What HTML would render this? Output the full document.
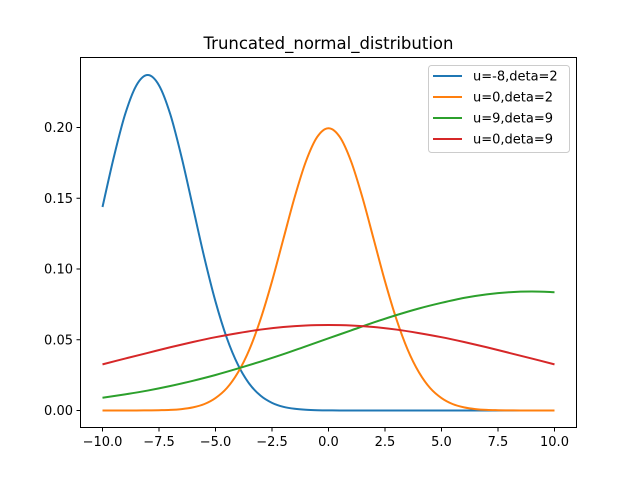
<!DOCTYPE html>
<html><head><meta charset="utf-8"><style>
body{margin:0;background:#fff}
svg text{font-family:"DejaVu Sans","Liberation Sans",sans-serif;}
</style></head><body>
<svg id="chart" width="640" height="480" viewBox="0 0 640 480">
<rect width="640" height="480" fill="#fff"/>
<text x="328.5" y="49" font-size="16.5" text-anchor="middle">Truncated_normal_distribution</text>
<g id="ticks"></g>
<g id="series"></g>
<rect x="80.5" y="57.5" width="496" height="370" fill="none" stroke="#000" stroke-width="1"/>
<g id="legend">
<rect x="428.5" y="65.5" width="141" height="87" rx="3" fill="#fff" fill-opacity="0.8" stroke="#ccc"/>
</g>
</svg>
<script>
const xHalf = [];
for (let i = 0; i <= 40; i++) xHalf.push(-10 + i * 0.5);
const xInt = [];
for (let i = 0; i <= 20; i++) xInt.push(-10 + i);
const labels = ["u=-8,deta=2","u=0,deta=2","u=9,deta=9","u=0,deta=9"];
const colors = ["#1f77b4","#ff7f0e","#2ca02c","#d62728"];
const s1 = [.1438,.1790,.2093,.2298,.2371,.2298,.2093,.1790,.1438,.1085,.0770,.0513,.0321,.0188,.0104,.0054,.0026,.0012,.0005,.0002,.0001,0,0,0,0,0,0,0,0,0,0,0,0,0,0,0,0,0,0,0,0];
const s2 = [0,0,0,0,.0001,.0002,.0004,.0010,.0022,.0045,.0088,.0158,.0270,.0431,.0648,.0913,.1210,.1506,.1760,.1933,.1995,.1933,.1760,.1506,.1210,.0913,.0648,.0431,.0270,.0158,.0088,.0045,.0022,.0010,.0004,.0002,.0001,0,0,0,0];
const s3 = [.0090,.0114,.0141,.0173,.0210,.0251,.0297,.0346,.0398,.0454,.0510,.0566,.0622,.0674,.0721,.0761,.0796,.0821,.0836,.0841,.0836];
const s4 = [.0326,.0367,.0407,.0447,.0484,.0518,.0547,.0572,.0590,.0601,.0604,.0601,.0590,.0572,.0547,.0518,.0484,.0447,.0407,.0367,.0326];
const xTicks = [-10,-7.5,-5,-2.5,0,2.5,5,7.5,10];
const xTickLabels = ["−10.0","−7.5","−5.0","−2.5","0.0","2.5","5.0","7.5","10.0"];
const yTicks = [0,0.05,0.10,0.15,0.20];
const yTickLabels = ["0.00","0.05","0.10","0.15","0.20"];

const X = v => 102.5 + (v + 10) * 22.6;
const Y = v => 410.5 - v * 1415;
const NS = "http://www.w3.org/2000/svg";
const mk = (t, a, p) => { const e = document.createElementNS(NS, t); for (const k in a) e.setAttribute(k, a[k]); p.appendChild(e); return e; };

const tg = document.getElementById('ticks');
xTicks.forEach((v, i) => {
  const l = mk('line', {x1: X(v), x2: X(v), y1: 427.5, y2: 431.5, stroke: '#000'}, tg);
  
  
  const t = mk('text', {x: X(v), y: 446, 'font-size': 13, 'text-anchor': 'middle'}, tg);
  t.textContent = xTickLabels[i];
  
  
});
yTicks.forEach((v, i) => {
  const l = mk('line', {x1: 76.5, x2: 80.5, y1: Y(v), y2: Y(v), stroke: '#000'}, tg);
  
  
  const t = mk('text', {x: 73, y: Y(v) + 4.5, 'font-size': 13, 'text-anchor': 'end'}, tg);
  t.textContent = yTickLabels[i];
  
  
});

function pathFor(xs, ys) {
  const p = xs.map((x, i) => [X(x), Y(ys[i])]);
  let d = 'M' + p[0][0] + ',' + p[0][1];
  for (let i = 0; i < p.length - 1; i++) {
    const p0 = p[i - 1] || p[i], p1 = p[i], p2 = p[i + 1], p3 = p[i + 2] || p[i + 1];
    const c1 = [p1[0] + (p2[0] - p0[0]) / 6, p1[1] + (p2[1] - p0[1]) / 6];
    const c2 = [p2[0] - (p3[0] - p1[0]) / 6, p2[1] - (p3[1] - p1[1]) / 6];
    d += 'C' + c1 + ' ' + c2 + ' ' + p2;
  }
  return d;
}
const sg = document.getElementById('series');
const all = [[xHalf, s1], [xHalf, s2], [xInt, s3], [xInt, s4]];
const names = ['series-u-8-deta-2', 'series-u0-deta-2', 'series-u9-deta-9', 'series-u0-deta-9'];
all.forEach((s, i) => {
  const e = mk('path', {d: pathFor(s[0], s[1]), fill: 'none', stroke: colors[i], 'stroke-width': 2}, sg);
  
  
});
const lg = document.getElementById('legend');
labels.forEach((lab, i) => {
  const y = 76 + i * 21;
  const l = mk('line', {x1: 433, x2: 462, y1: y, y2: y, stroke: colors[i], 'stroke-width': 2}, lg);
  
  
  const t = mk('text', {x: 473, y: y + 4.5, 'font-size': 13}, lg);
  t.textContent = lab;
  
  
});
</script>
</body></html>
